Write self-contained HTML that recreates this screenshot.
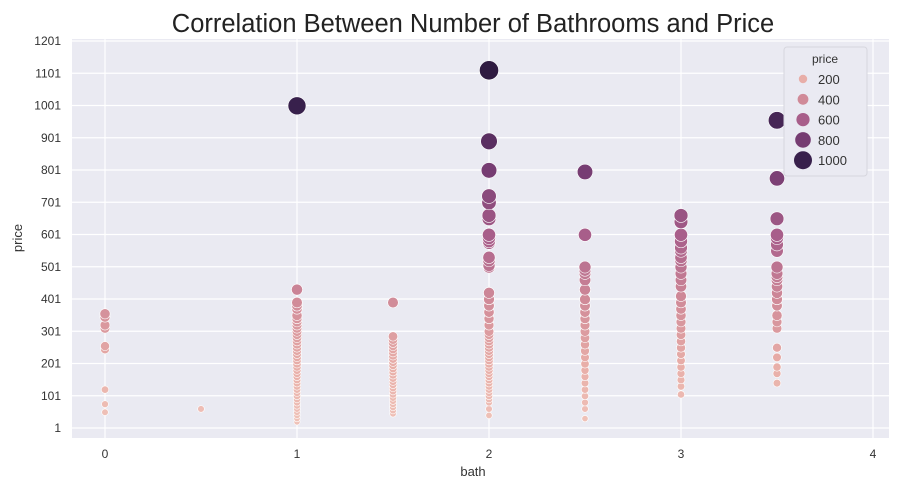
<!DOCTYPE html>
<html><head><meta charset="utf-8"><style>
body{margin:0;background:#fff;width:902px;height:493px;overflow:hidden;font-family:"Liberation Sans",sans-serif}
</style></head><body>
<svg id="chart" width="902" height="493" viewBox="0 0 902 493" font-family="Liberation Sans, sans-serif">
<text x="473" y="32" font-size="25.5" text-anchor="middle" fill="#222">Correlation Between Number of Bathrooms and Price</text>
<rect x="72" y="39" width="817" height="399" fill="#eaeaf2"/>
<g id="grid"></g><g id="ticks"></g><g id="marks"></g>
<text x="473" y="476" font-size="13" text-anchor="middle" fill="#333">bath</text>
<text transform="translate(22,238) rotate(-90)" font-size="13" text-anchor="middle" fill="#333">price</text>
<g id="legend"></g>
</svg>
<script>
const baths=[0,0.5,1,1.5,2,2.5,3,3.5];
const prices=[
[355,345,320,310,255,245,120,75,50],
[60],
[1000,430,390,380,370,350,340,330,320,310,300,290,280,270,260,250,240,230,220,210,200,190,180,170,160,150,140,130,120,110,100,90,80,70,60,50,40,30,20],
[390,285,275,265,255,245,235,225,215,205,195,185,175,165,155,145,135,125,115,105,95,85,75,65,55,45],
[1110,890,800,720,700,660,650,600,590,580,575,530,520,505,500,420,400,380,360,340,320,300,290,280,270,260,250,240,230,220,210,200,190,180,170,160,150,140,130,120,110,100,90,80,60,40],
[795,600,500,490,480,460,430,400,380,360,340,320,300,280,260,240,220,200,180,160,140,120,100,80,60,30],
[660,640,600,580,560,550,530,520,500,480,460,440,410,390,370,350,330,310,290,270,250,230,210,190,170,150,130,105],
[955,775,650,600,590,570,550,500,480,470,460,440,420,400,380,350,330,310,250,220,190,170,140]];
const xTicks=[0,1,2,3,4];
const yTicks=[1,101,201,301,401,501,601,701,801,901,1001,1101,1201];
const legendVals=[200,400,600,800,1000];
const NS="http://www.w3.org/2000/svg";
const X=v=>105+v*192, Y=v=>428-(v-1)*0.3225;
const stops=[[0,[240,196,186]],[200,[232,174,168]],[400,[208,138,152]],[600,[168,94,138]],[800,[118,60,114]],[1000,[56,32,76]],[1200,[40,22,56]]];
function col(p){for(let i=0;i<stops.length-1;i++){const[a,ca]=stops[i],[b,cb]=stops[i+1];if(p<=b){const t=Math.max(0,(p-a)/(b-a));return`rgb(${ca.map((c,k)=>Math.round(c+(cb[k]-c)*t)).join(',')})`;}}return'rgb(40,22,56)';}
const rad=p=>3+Math.min(p,1100)/1000*6;
function mk(tag,at,par){const e=document.createElementNS(NS,tag);for(const k in at)e.setAttribute(k,at[k]);par.appendChild(e);return e;}
const grid=document.getElementById('grid'),ticks=document.getElementById('ticks'),marks=document.getElementById('marks'),leg=document.getElementById('legend');
xTicks.forEach(t=>{const l=mk('line',{x1:X(t),x2:X(t),y1:39,y2:438,stroke:'#fff','stroke-width':1.2},grid);

const tx=mk('text',{x:X(t),y:458,'font-size':12,'text-anchor':'middle',fill:'#333'},ticks);tx.textContent=t;
});
yTicks.forEach(t=>{const l=mk('line',{x1:72,x2:889,y1:Y(t),y2:Y(t),stroke:'#fff','stroke-width':1.2},grid);

const tx=mk('text',{x:61,y:Y(t)+4,'font-size':12,'text-anchor':'end',fill:'#333'},ticks);tx.textContent=t;
});
const pts=[];baths.forEach((b,i)=>prices[i].forEach(p=>pts.push([b,p])));
pts.sort((a,b)=>a[1]-b[1]);
pts.forEach(([b,p])=>{const c=mk('circle',{cx:X(b),cy:Y(p),r:rad(p),fill:col(p),stroke:'#fff','stroke-width':0.6},marks);
});
const box=mk('rect',{x:784,y:47,width:83,height:129,rx:3,fill:'#eaeaf2',stroke:'#d6d6de'},leg);

const lt=mk('text',{x:825,y:63,'font-size':12,'text-anchor':'middle',fill:'#333'},leg);lt.textContent='price';

legendVals.forEach((v,i)=>{const y=79+i*20.3;
const c=mk('circle',{cx:803,cy:y,r:rad(v),fill:col(v)},leg);
const t=mk('text',{x:818,y:y+5,'font-size':13,fill:'#333'},leg);t.textContent=v;});
</script>
</body></html>
